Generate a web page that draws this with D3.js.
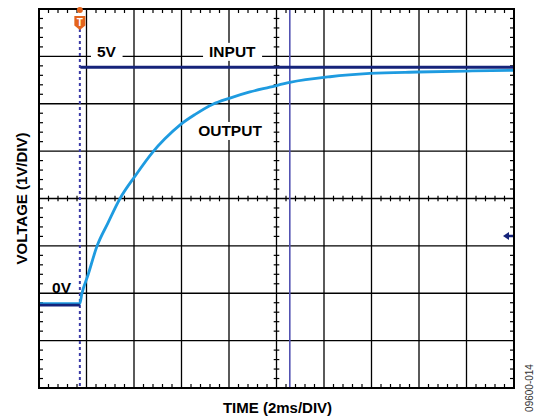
<!DOCTYPE html>
<html>
<head>
<meta charset="utf-8">
<script src="https://cdn.jsdelivr.net/npm/d3@7"></script>
<style>
  html, body { margin: 0; padding: 0; background: #fff; }
  svg { display: block; }
  text { font-family: "Liberation Sans", Arial, Helvetica, sans-serif; }
</style>
</head>
<body>
<svg id="chart" width="540" height="419"></svg>
<script>
// ---- data (time in ms relative to trigger, voltage in V) ----
const timeDomain = [-1.72, 18.28];          // 10 divisions x 2 ms
const voltDomain = [-1.75, 6.25];           // 8 divisions x 1 V
const timePerDiv = 2;
const voltPerDiv = 1;
const minorPerDiv = 5;

// input: pre-trigger segment and post-trigger segment (fast step, not drawn)
const inputPreTime = [-1.72, 0.0];
const inputPreVolt = [0.0, 0.0];
const inputPostTime = [0.02, 18.28];
const inputPostVolt = [5.02, 5.02];

const outputTime = [-1.72, 0.0, 0.08, 0.34, 0.72, 1.18, 1.68, 2.32, 3.07, 3.58, 4.21, 4.84, 5.60, 6.32, 7.16, 8.00, 8.84, 10.53, 12.21, 14.23, 16.25, 18.28];
const outputVolt = [0.03, 0.03, 0.23, 0.63, 1.24, 1.73, 2.24, 2.72, 3.23, 3.51, 3.80, 4.02, 4.24, 4.37, 4.50, 4.60, 4.70, 4.82, 4.89, 4.92, 4.94, 4.955];

const triggerTime = 0.0;
const cursorTime = 8.84;
const levelMarkerVolt = 1.46;

const labels = [
  { text: "5V", t: 0.72, v: 5.24, box: true },
  { text: "INPUT", t: 5.44, v: 5.24, box: true },
  { text: "OUTPUT", t: 4.98, v: 3.57, box: true },
  { text: "0V", t: -1.17, v: 0.26, box: false }
];
const xTitle = "TIME (2ms/DIV)";
const yTitle = "VOLTAGE (1V/DIV)";
const figId = "09600-014";

// ---- layout ----
const svg = d3.select("#chart");
const x = d3.scaleLinear().domain(timeDomain).range([39, 514]);
const y = d3.scaleLinear().domain(voltDomain).range([388, 9]);
const [x0, x1] = x.range();
const [y0, y1] = y.range();

const nX = Math.round((timeDomain[1] - timeDomain[0]) / timePerDiv);
const nY = Math.round((voltDomain[1] - voltDomain[0]) / voltPerDiv);
const majorT = d3.range(1, nX).map(i => timeDomain[0] + i * timePerDiv);
const majorV = d3.range(1, nY).map(i => voltDomain[0] + i * voltPerDiv);
const minorT = d3.range(1, nX * minorPerDiv).filter(i => i % minorPerDiv).map(i => timeDomain[0] + i * timePerDiv / minorPerDiv);
const minorV = d3.range(1, nY * minorPerDiv).filter(i => i % minorPerDiv).map(i => voltDomain[0] + i * voltPerDiv / minorPerDiv);
const centerT = timeDomain[0] + (nX / 2) * timePerDiv;
const centerV = voltDomain[0] + (nY / 2) * voltPerDiv;

const g = svg.append("g");

// grid
g.selectAll(".vg").data(majorT).join("line")
  .attr("x1", d => x(d)).attr("x2", d => x(d)).attr("y1", y1).attr("y2", y0)
  .attr("stroke", "#000").attr("stroke-width", 1.3);
g.selectAll(".hg").data(majorV).join("line")
  .attr("x1", x0).attr("x2", x1).attr("y1", d => y(d)).attr("y2", d => y(d))
  .attr("stroke", "#000").attr("stroke-width", 1.3);

// minor ticks on frame (inward) and on center lines (both sides)
const tk = 4, ck = 2.8;
const ticks = g.append("g").attr("stroke", "#000").attr("stroke-width", 1.2);
minorT.forEach(t => {
  const px = x(t);
  ticks.append("line").attr("x1", px).attr("x2", px).attr("y1", y1).attr("y2", y1 + tk);
  ticks.append("line").attr("x1", px).attr("x2", px).attr("y1", y0).attr("y2", y0 - tk);
  ticks.append("line").attr("x1", px).attr("x2", px).attr("y1", y(centerV) - ck).attr("y2", y(centerV) + ck);
});
minorV.forEach(v => {
  const py = y(v);
  ticks.append("line").attr("y1", py).attr("y2", py).attr("x1", x0).attr("x2", x0 + tk);
  ticks.append("line").attr("y1", py).attr("y2", py).attr("x1", x1).attr("x2", x1 - tk);
  ticks.append("line").attr("y1", py).attr("y2", py).attr("x1", x(centerT) - ck).attr("x2", x(centerT) + ck);
});

// label boxes (white) + labels
labels.forEach(l => {
  const tx = g.append("text")
    .attr("x", x(l.t)).attr("y", y(l.v))
    .attr("font-size", 15.5).attr("font-weight", "bold")
    .attr("fill", "#000")
    .text(l.text);
  if (l.box) {
    const bb = tx.node().getBBox();
    g.insert("rect", "text")
      .attr("x", bb.x - 6).attr("y", bb.y)
      .attr("width", bb.width + 12).attr("height", bb.height + 1)
      .attr("fill", "#fff");
  }
});

// cursor line
g.append("line")
  .attr("x1", x(cursorTime)).attr("x2", x(cursorTime)).attr("y1", y1).attr("y2", y0)
  .attr("stroke", "#5252b2").attr("stroke-width", 1.6);

// trigger dashed line
g.append("line")
  .attr("x1", x(triggerTime)).attr("x2", x(triggerTime)).attr("y1", 29).attr("y2", y0)
  .attr("stroke", "#3a3aa6").attr("stroke-width", 2).attr("stroke-dasharray", "3,3");

// traces
const line = d3.line().x(d => x(d[0])).y(d => y(d[1]));
g.append("path")
  .datum(d3.zip(outputTime, outputVolt))
  .attr("d", d3.line().x(d => x(d[0])).y(d => y(d[1])).curve(d3.curveMonotoneX))
  .attr("fill", "none").attr("stroke", "#1e9be0").attr("stroke-width", 2.8)
  .attr("stroke-linejoin", "round");
[[inputPreTime, inputPreVolt], [inputPostTime, inputPostVolt]].forEach(([tt, vv]) => {
  g.append("path")
    .datum(d3.zip(tt, vv))
    .attr("d", line)
    .attr("fill", "none").attr("stroke", "#15237a").attr("stroke-width", 2.8);
});

// frame
g.append("rect")
  .attr("x", x0).attr("y", y1).attr("width", x1 - x0).attr("height", y0 - y1)
  .attr("fill", "none").attr("stroke", "#000").attr("stroke-width", 2);

// trigger marker (orange T)
const tx0 = x(triggerTime);
g.append("circle").attr("cx", tx0).attr("cy", y1 + 1).attr("r", 3).attr("fill", "#e4641c");
g.append("path")
  .attr("d", `M${tx0 - 5.5},16 H${tx0 + 5.5} V25.5 L${tx0},30 L${tx0 - 5.5},25.5 Z`)
  .attr("fill", "#e4641c");
g.append("text").attr("x", tx0).attr("y", 26)
  .attr("text-anchor", "middle").attr("font-size", 10).attr("font-weight", "bold")
  .attr("fill", "#fff").text("T");

// level marker arrow on right edge
const ly = y(levelMarkerVolt);
g.append("path")
  .attr("d", `M${x1 - 11},${ly} L${x1 - 5},${ly - 4} L${x1 - 5},${ly - 1.2} L${x1 - 1},${ly - 1.2} L${x1 - 1},${ly + 1.2} L${x1 - 5},${ly + 1.2} L${x1 - 5},${ly + 4} Z`)
  .attr("fill", "#15237a");

// axis titles
svg.append("text")
  .attr("x", (x0 + x1) / 2 + 1).attr("y", 412.5)
  .attr("text-anchor", "middle").attr("font-size", 15).attr("font-weight", "bold")
  .text(xTitle);
svg.append("text")
  .attr("transform", `translate(26.5,${(y0 + y1) / 2}) rotate(-90)`)
  .attr("text-anchor", "middle").attr("font-size", 15).attr("font-weight", "bold")
  .text(yTitle);
svg.append("text")
  .attr("transform", `translate(533,388) rotate(-90)`)
  .attr("text-anchor", "middle").attr("font-size", 10).attr("fill", "#333")
  .text(figId);
</script>
</body>
</html>
